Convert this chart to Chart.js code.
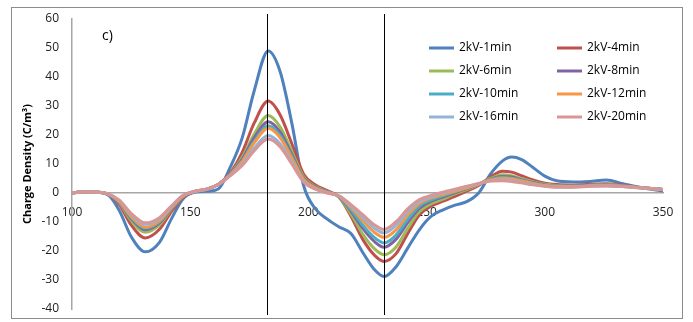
<!DOCTYPE html>
<html>
<head>
<meta charset="utf-8">
<script src="https://cdn.jsdelivr.net/npm/chart.js@4.4.1/dist/chart.umd.min.js"></script>
<style>
  html, body { margin: 0; padding: 0; background: #fff; }
  #wrap { width: 693px; height: 322px; position: relative; }
</style>
</head>
<body>
<div id="wrap"><canvas id="chart"></canvas></div>
<script>
// position along the sample (x axis)
const positions = [100,105,110,115,120,125,131,137,142,147,152,157,162,167,172,177,183,188,193,198,203,208,213,218,223,228,232,237,242,247,252,257,262,267,272,277,282,286,290,295,300,305,312,319,326,333,341,350];

const labels = ['2kV-1min', '2kV-4min', '2kV-6min', '2kV-8min', '2kV-10min', '2kV-12min', '2kV-16min', '2kV-20min'];
const colors = ['#4F81BD', '#C0504D', '#9BBB59', '#8064A2', '#4BACC6', '#F79646', '#95B3D7', '#D99694'];

const min1 = [0,0.5,0.3,-0.5,-6,-15,-20.3,-17,-9,-2,0.3,0.6,1.5,9,19,35,49,42,24,2.5,-5.5,-9,-11.7,-14,-20.5,-26.5,-28.8,-25.5,-19,-12.6,-8,-5.8,-4.2,-3,0,6.5,11,12.4,11.6,8.8,5.8,4.2,3.8,4,4.5,3.2,1.8,0.7];
const min4 = [0,0.4,0.3,-0.4,-4,-11,-15.5,-12.5,-6.5,-1.5,0.5,1.3,3,7,14,24,31.7,27,17,6.5,2.8,0.8,-1.5,-8,-16,-21.5,-23.6,-21,-14,-7.5,-4.5,-2.8,-1.2,0.6,2.6,5.5,7.5,7.2,6,4.5,3.4,2.9,2.7,3,3.2,2.7,1.9,1.2];
const min6 = [0,0.4,0.3,-0.3,-3.4,-9.5,-13.5,-11,-5.7,-1.2,0.5,1.3,3,6.6,12.3,20.2,26.7,22.8,14.3,5.5,2.2,0.5,-1.4,-7.2,-14.2,-19.3,-21.3,-18.7,-12.2,-6.4,-3.7,-2.1,-0.3,1.2,2.9,5,6.3,6,5,3.9,3,2.6,2.4,2.7,2.9,2.5,1.8,1.2];
const min8 = [0,0.4,0.3,-0.3,-3.2,-8.8,-12.7,-10.3,-5.4,-1.1,0.5,1.3,3,6.5,11.6,18.9,24.6,21.1,13.2,5,2,0.4,-1.3,-6.2,-12.2,-16.8,-18.7,-16,-10.2,-5.2,-2.8,-1.4,0.1,1.5,3,4.7,5.7,5.5,4.6,3.6,2.8,2.4,2.3,2.6,2.8,2.4,1.8,1.2];
const min10 = [0,0.4,0.3,-0.3,-3,-8.4,-12.1,-9.9,-5.2,-1,0.5,1.3,3,6.4,11.1,17.8,23.2,19.9,12.5,4.7,1.8,0.3,-1.2,-5.7,-11.1,-15.4,-17.2,-14.6,-9.1,-4.5,-2.4,-1,0.4,1.7,3.1,4.6,5.4,5.1,4.4,3.4,2.7,2.3,2.2,2.5,2.7,2.4,1.8,1.2];
const min12 = [0,0.4,0.3,-0.2,-2.9,-8.1,-11.8,-9.6,-5.1,-1,0.6,1.3,3,6.3,10.8,17.2,22.3,19.1,12,4.6,1.7,0.2,-1.1,-5,-9.6,-13.6,-15.3,-12.8,-7.6,-3.6,-1.7,-0.5,0.6,1.8,3.1,4.5,5.1,4.9,4.2,3.3,2.6,2.3,2.2,2.5,2.6,2.3,1.8,1.2];
const min16 = [0,0.4,0.3,-0.2,-2.6,-7.4,-10.8,-8.9,-4.7,-0.9,0.6,1.3,3,6.1,9.9,15.4,19.8,17,10.6,4,1.4,0.1,-1.1,-4.4,-8.4,-12.2,-13.8,-11.2,-6.4,-2.9,-1.2,0,1.1,2.2,3.2,4.2,4.5,4.3,3.7,3,2.4,2.1,2.1,2.4,2.5,2.2,1.7,1.2];
const min20 = [0,0.4,0.3,-0.2,-2.5,-7,-10.3,-8.5,-4.5,-0.8,0.6,1.3,3,6,9.5,14.5,18.6,16,10,3.8,1.3,0,-1,-4,-7.5,-11,-12.6,-10,-5.5,-2.3,-0.8,0.3,1.3,2.3,3.3,4.1,4.2,4,3.5,2.8,2.3,2,2,2.3,2.4,2.2,1.7,1.2];

const series = [min1, min4, min6, min8, min10, min12, min16, min20];

// the two vertical marker lines
const markerLines = [182.5, 231.8];

const xTicks = [100, 150, 200, 250, 300, 350];
const yTicks = [-40, -30, -20, -10, 0, 10, 20, 30, 40, 50, 60];

const datasets = series.map((vals, i) => ({
    label: labels[i],
    data: vals.map((v, k) => ({ x: positions[k], y: v })),
    borderColor: colors[i],
    backgroundColor: colors[i],
    borderWidth: 3,
    pointRadius: 0,
    fill: false,
    cubicInterpolationMode: 'monotone',
    order: series.length - i   // later series drawn on top
}));

const decorations = {
    id: 'decorations',
    beforeDraw(chart) {
        const ctx = chart.ctx;
        ctx.save();
        ctx.strokeStyle = '#8C8C8C';
        ctx.lineWidth = 1;
        ctx.strokeRect(11.5, 7.5, 671, 311);
        ctx.restore();
    },
    afterDraw(chart) {
        const ctx = chart.ctx;
        const xs = chart.scales.x;
        ctx.save();
        // vertical lines
        ctx.strokeStyle = '#000';
        ctx.lineWidth = 1;
        markerLines.forEach(v => {
            const px = Math.round(xs.getPixelForValue(v)) + 0.5;
            ctx.beginPath();
            ctx.moveTo(px, 14);
            ctx.lineTo(px, 315);
            ctx.stroke();
        });
        // panel label
        ctx.fillStyle = '#000';
        ctx.font = '14px "Open Sans"';
        ctx.textBaseline = 'middle';
        ctx.fillText('c)', 102, 36);
        // legend, two columns
        const colX = [429, 557];
        const rowY = [48, 71, 94, 117];
        ctx.font = '12px "Open Sans"';
        chart.data.datasets.forEach((ds, i) => {
            const x = colX[i % 2];
            const y = rowY[Math.floor(i / 2)];
            ctx.strokeStyle = ds.borderColor;
            ctx.lineWidth = 3;
            ctx.beginPath();
            ctx.moveTo(x, y);
            ctx.lineTo(x + 25, y);
            ctx.stroke();
            ctx.fillStyle = '#000';
            ctx.fillText(ds.label, x + 30, y);
        });
        ctx.restore();
    }
};

// invisible tick marks give the label offset without enlarging the layout padding
const hiddenGrid = len => ({
    display: true,
    drawOnChartArea: false,
    drawTicks: true,
    tickLength: len,
    color: 'rgba(0,0,0,0)',
    tickColor: 'rgba(0,0,0,0)'
});

new Chart(document.getElementById('chart'), {
    type: 'line',
    data: { datasets: datasets },
    options: {
        responsive: true,
        maintainAspectRatio: false,
        animation: false,
        layout: { padding: { left: 0, right: 30, top: 19, bottom: 13 } },
        plugins: {
            legend: { display: false },
            tooltip: { enabled: false }
        },
        scales: {
            x: {
                type: 'linear',
                position: { y: 0 },
                min: 100,
                max: 350,
                afterBuildTicks: axis => { axis.ticks = xTicks.map(v => ({ value: v })); },
                afterFit: axis => { axis.height = 0; },
                grid: hiddenGrid(12),
                border: { display: true, color: '#A6A6A6', width: 1.5 },
                ticks: { padding: 0, color: '#222', font: { family: 'Open Sans', size: 12 }, maxRotation: 0 }
            },
            y: {
                type: 'linear',
                position: 'left',
                min: -40,
                max: 60,
                afterBuildTicks: axis => { axis.ticks = yTicks.map(v => ({ value: v })); },
                afterFit: axis => { axis.width = 72; },
                grid: hiddenGrid(13),
                border: { display: true, color: '#A6A6A6', width: 1.5 },
                ticks: { padding: 0, color: '#222', font: { family: 'Open Sans', size: 12 } },
                title: {
                    display: true,
                    text: 'Charge Density (C/m³)',
                    color: '#000',
                    font: { family: 'Open Sans', size: 11, weight: 'bold' },
                    padding: { top: 21, bottom: 0 }
                }
            }
        }
    },
    plugins: [decorations]
});
</script>
</body>
</html>
